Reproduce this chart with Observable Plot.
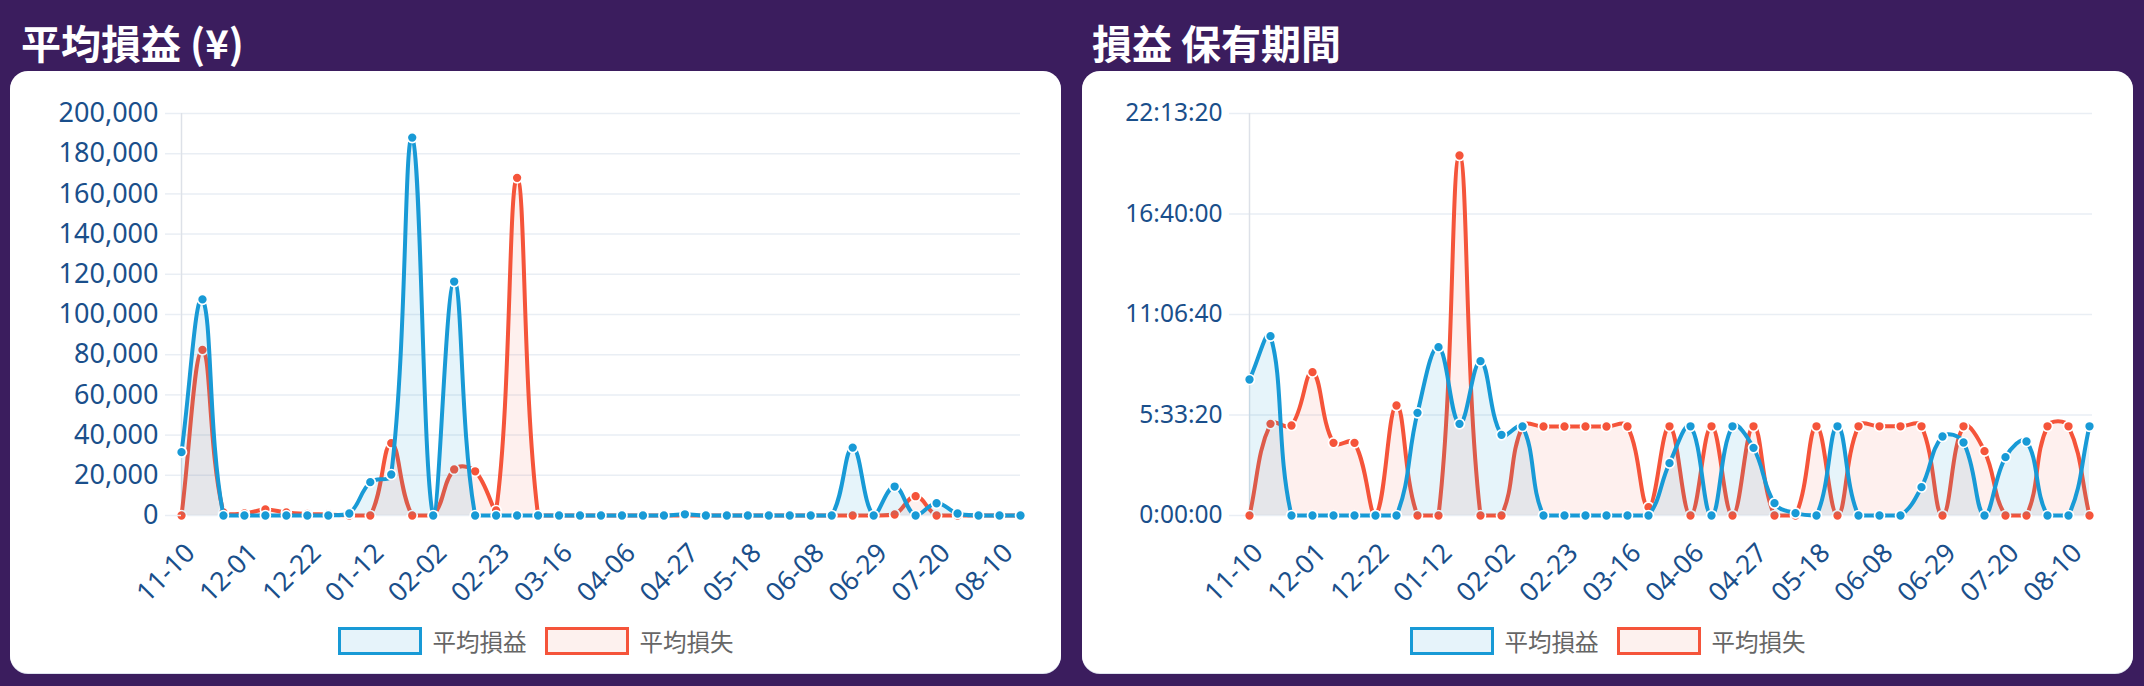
<!DOCTYPE html>
<html>
<head>
<meta charset="utf-8">
<script src="https://cdn.jsdelivr.net/npm/d3@7"></script>
<script src="https://cdn.jsdelivr.net/npm/@observablehq/plot@0.6"></script>
<style>
  html, body { margin: 0; padding: 0; }
  body { width: 2144px; height: 686px; background: #3b1d5e; position: relative; overflow: hidden; font-family: "Noto Sans", "Noto Sans CJK JP", sans-serif; }
  .title { position: absolute; top: 20px; color: #fff; font-family: "Noto Sans CJK JP", "Noto Sans", sans-serif; font-weight: 600; font-size: 40px; line-height: 44px; white-space: nowrap; }
  .card { position: absolute; top: 71px; width: 1051px; height: 602px; background: #fff; border-radius: 18px; box-shadow: 0 1px 0 #dde2ee; }
  .card svg { position: absolute; left: 0; top: 0; }
  .legend { position: absolute; top: 556px; left: 0; width: 100%; display: flex; justify-content: center; align-items: center; gap: 18px; }
  .item { display: flex; align-items: center; gap: 11px; }
  .box { width: 84px; height: 28px; box-sizing: border-box; border: 3.5px solid; }
  .lab { font-family: "Noto Sans CJK JP", sans-serif; font-size: 23.5px; color: #666; line-height: 28px; }
</style>
</head>
<body>
<div class="title" style="left:21px">平均損益 (¥)</div>
<div class="title" style="left:1092px">損益 保有期間</div>
<div class="card" id="cardL" style="left:10px"></div>
<div class="card" id="cardR" style="left:1082px"></div>
<script>
// ---- data ----
const weeks = ["11-10","11-17","11-24","12-01","12-08","12-15","12-22","12-29","01-05","01-12","01-19","01-26","02-02","02-09","02-16","02-23","03-02","03-09","03-16","03-23","03-30","04-06","04-13","04-20","04-27","05-04","05-11","05-18","05-25","06-01","06-08","06-15","06-22","06-29","07-06","07-13","07-20","07-27","08-03","08-10","08-17"];
const tickWeeks = ["11-10","12-01","12-22","01-12","02-02","02-23","03-16","04-06","04-27","05-18","06-08","06-29","07-20","08-10"];
const seriesNames = ["平均損益", "平均損失"];

// 平均損益 (¥)
const avgProfitYen = [31500,107500,0,0,0,0,0,0,1000,16600,20400,188000,0,116400,0,0,0,0,0,0,0,0,0,0,600,0,0,0,0,0,0,0,33800,0,14400,0,6100,1000,0,0,0];
const avgLossYen   = [0,82400,1500,1000,3000,1500,800,500,0,0,36000,0,0,22900,22000,2500,168000,0,0,0,0,0,0,0,0,0,0,0,0,0,0,0,0,0,500,9600,0,0,0,0,0];
const yenTicks = [0,20000,40000,60000,80000,100000,120000,140000,160000,180000,200000];

// 損益 保有期間 (seconds)
const holdProfitSec = [27060,35690,0,0,0,0,0,0,20430,33500,18240,30710,16050,17710,0,0,0,0,0,0,10410,17750,0,17750,13460,2450,460,0,17750,0,0,0,5640,15720,14530,0,11610,14730,0,0,17750];
const holdLossSec   = [0,18240,17910,28520,14460,14460,0,21890,0,0,71640,0,0,17710,17710,17710,17710,17710,17710,1660,17750,0,17750,0,17750,0,0,17750,0,17750,17750,17750,17750,0,17750,12800,0,0,17750,17750,0];
const secTicks = [0,20000,40000,60000,80000];

// ---- styles ----
const BLUE = "#189ad6", RED = "#f5543a";
const GRID = "#e9eef4", AXIS = "#dde1e8", LABEL = "#1a4f8b";

// Chart.js-like spline (tension, distance weighted, control points capped to chart area)
function chartjsCurve(area, tension) {
  function C(context) { this._context = context; }
  C.prototype = {
    areaStart() { this._line = 0; },
    areaEnd() { this._line = NaN; },
    lineStart() { this._pts = []; },
    point(x, y) { this._pts.push({x: +x, y: +y}); },
    lineEnd() {
      const p = this._pts, n = p.length, c = this._context, t = tension, a = area;
      if (n) {
        let prev = p[0];
        for (let i = 0; i < n; i++) {
          const cur = p[i], next = p[Math.min(i + 1, n - 1)];
          const d01 = Math.hypot(cur.x - prev.x, cur.y - prev.y);
          const d12 = Math.hypot(next.x - cur.x, next.y - cur.y);
          let s01 = d01 / (d01 + d12), s12 = d12 / (d01 + d12);
          if (isNaN(s01)) s01 = 0;
          if (isNaN(s12)) s12 = 0;
          const fa = t * s01, fb = t * s12;
          cur.cp1x = cur.x - fa * (next.x - prev.x); cur.cp1y = cur.y - fa * (next.y - prev.y);
          cur.cp2x = cur.x + fb * (next.x - prev.x); cur.cp2y = cur.y + fb * (next.y - prev.y);
          prev = cur;
        }
        const inA = q => q.x > a.left - 0.5 && q.x < a.right + 0.5 && q.y > a.top - 0.5 && q.y < a.bottom + 0.5;
        const cap = (v, lo, hi) => Math.max(Math.min(v, hi), lo);
        let inArea, inAreaPrev, inAreaNext = inA(p[0]);
        for (let i = 0; i < n; i++) {
          inAreaPrev = inArea; inArea = inAreaNext; inAreaNext = i < n - 1 && inA(p[i + 1]);
          if (!inArea) continue;
          const q = p[i];
          if (inAreaPrev) { q.cp1x = cap(q.cp1x, a.left, a.right); q.cp1y = cap(q.cp1y, a.top, a.bottom); }
          if (inAreaNext) { q.cp2x = cap(q.cp2x, a.left, a.right); q.cp2y = cap(q.cp2y, a.top, a.bottom); }
        }
        if (this._line) c.lineTo(p[0].x, p[0].y); else c.moveTo(p[0].x, p[0].y);
        for (let i = 1; i < n; i++) c.bezierCurveTo(p[i-1].cp2x, p[i-1].cp2y, p[i].cp1x, p[i].cp1y, p[i].x, p[i].y);
      }
      if (this._line || (this._line !== 0 && n === 1)) c.closePath();
      this._line = 1 - this._line;
    }
  };
  return context => new C(context);
}

function fmtSec(s) {
  const h = Math.floor(s / 3600), m = Math.floor((s % 3600) / 60), sec = Math.round(s % 60);
  return `${h}:${String(m).padStart(2, "0")}:${String(sec).padStart(2, "0")}`;
}

function makeChart({profit, loss, ticks, format, yFont, marginLeft}) {
  const width = 1051, height = 545, marginTop = 42, marginBottom = 101, marginRight = 41;
  const area = {left: marginLeft, right: width - marginRight, top: marginTop, bottom: height - marginBottom};
  const curve = chartjsCurve(area, 0.4);
  const rows = weeks.map((w, i) => ({week: w, profit: profit[i], loss: loss[i]}));
  const lineW = 4;
  return Plot.plot({
    width, height, marginTop, marginBottom, marginLeft, marginRight,
    style: {fontFamily: '"Noto Sans", sans-serif', background: "transparent", overflow: "visible"},
    x: {type: "point", domain: weeks, padding: 0, label: null},
    y: {domain: [ticks[0], ticks[ticks.length - 1]], label: null},
    marks: [
      Plot.gridY(ticks, {stroke: GRID, strokeOpacity: 1, strokeWidth: 1.5}),
      Plot.ruleX([weeks[0]], {stroke: AXIS, strokeWidth: 1.5}),
      // 平均損失 (drawn first, below)
      Plot.areaY(rows, {x: "week", y: "loss", fill: RED, fillOpacity: 0.085, curve}),
      Plot.lineY(rows, {x: "week", y: "loss", stroke: RED, strokeWidth: lineW, curve}),
      Plot.dot(rows, {x: "week", y: "loss", r: 5, fill: RED, stroke: "#fff", strokeWidth: 1.7}),
      // 平均損益
      Plot.areaY(rows, {x: "week", y: "profit", fill: BLUE, fillOpacity: 0.11, curve}),
      Plot.lineY(rows, {x: "week", y: "profit", stroke: BLUE, strokeWidth: lineW, curve}),
      Plot.dot(rows, {x: "week", y: "profit", r: 5, fill: BLUE, stroke: "#fff", strokeWidth: 1.7}),
      Plot.axisY(ticks, {tickFormat: format, tickSize: 16, tickPadding: 7, stroke: GRID, strokeWidth: 1.5, fill: LABEL, fontSize: yFont, label: null}),
      Plot.axisX(tickWeeks, {tickRotate: -45, tickSize: 0, tickPadding: 33, dx: 9, fill: LABEL, fontSize: 26.5, label: null})
    ]
  });
}

function legend() {
  const div = document.createElement("div");
  div.className = "legend";
  const defs = [[BLUE, "#e6f3fa", seriesNames[0]], [RED, "#fdf1ee", seriesNames[1]]];
  for (const [c, f, name] of defs) {
    const it = document.createElement("div"); it.className = "item";
    const b = document.createElement("div"); b.className = "box"; b.style.borderColor = c; b.style.background = f;
    const t = document.createElement("span"); t.className = "lab"; t.textContent = name;
    it.append(b, t); div.append(it);
  }
  return div;
}

const cardL = document.getElementById("cardL");
cardL.append(makeChart({profit: avgProfitYen, loss: avgLossYen, ticks: yenTicks, format: d3.format(","), yFont: 27, marginLeft: 171}));
cardL.append(legend());

const cardR = document.getElementById("cardR");
cardR.append(makeChart({profit: holdProfitSec, loss: holdLossSec, ticks: secTicks, format: fmtSec, yFont: 24.5, marginLeft: 163}));
cardR.append(legend());
</script>
</body>
</html>
